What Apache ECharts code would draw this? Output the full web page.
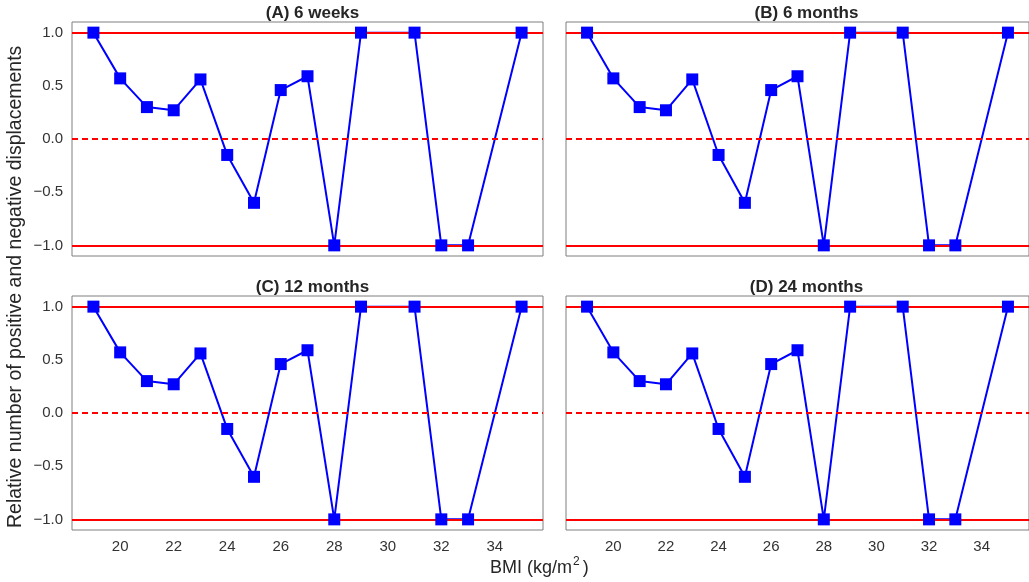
<!DOCTYPE html>
<html>
<head>
<meta charset="utf-8">
<script src="https://cdn.jsdelivr.net/npm/echarts@6/dist/echarts.min.js"></script>
<style>
  html, body { margin: 0; padding: 0; background: #fff; }
  #chart { width: 1029px; height: 582px; }
</style>
</head>
<body>
<div id="chart"></div>
<script>
// BMI categories and relative displacement values (same in every panel)
const bmi = [19, 20, 21, 22, 23, 24, 25, 26, 27, 28, 29, 31, 32, 33, 35];
const weeks6 = [1, 0.57, 0.30, 0.27, 0.56, -0.15, -0.60, 0.46, 0.59, -1, 1, 1, -1, -1, 1];
const months6 = [1, 0.57, 0.30, 0.27, 0.56, -0.15, -0.60, 0.46, 0.59, -1, 1, 1, -1, -1, 1];
const months12 = [1, 0.57, 0.30, 0.27, 0.56, -0.15, -0.60, 0.46, 0.59, -1, 1, 1, -1, -1, 1];
const months24 = [1, 0.57, 0.30, 0.27, 0.56, -0.15, -0.60, 0.46, 0.59, -1, 1, 1, -1, -1, 1];
const panelTitles = ['(A) 6 weeks', '(B) 6 months', '(C) 12 months', '(D) 24 months'];
const xTicks = [20, 22, 24, 26, 28, 30, 32, 34];
const yTicks = [-1, -0.5, 0, 0.5, 1];

const panels = [weeks6, months6, months12, months24];
const font = "'Liberation Sans', Arial, sans-serif";

const grids = [
  { left: 72, top: 22, width: 471, height: 234 },
  { left: 566, top: 22, width: 471, height: 234 },
  { left: 72, top: 296, width: 471, height: 234 },
  { left: 566, top: 296, width: 471, height: 234 }
];

const fmtY = v => (v < 0 ? '\u2212' + Math.abs(v).toFixed(1) : v.toFixed(1));

let chart = echarts.init(document.getElementById('chart'));

let option = {
  animation: false,
  backgroundColor: '#fff',
  title: panelTitles.map((t, i) => ({
    text: t,
    left: grids[i].left + grids[i].width / 2,
    top: grids[i].top - 22,
    textAlign: 'center',
    textStyle: { fontFamily: font, fontSize: 17, fontWeight: 'bold', color: '#262626' }
  })),
  grid: grids.map(g => Object.assign({
    show: true, borderColor: '#7f7f7f', borderWidth: 1, backgroundColor: '#fff'
  }, g)),
  xAxis: grids.map((g, i) => ({
    type: 'value',
    gridIndex: i,
    min: 18.2,
    max: 35.8,
    axisLine: { show: false },
    axisTick: { show: false },
    splitLine: { show: false },
    axisLabel: {
      show: i >= 2,
      customValues: xTicks,
      margin: 9,
      fontFamily: font,
      fontSize: 15,
      color: '#333'
    }
  })),
  yAxis: grids.map((g, i) => ({
    type: 'value',
    gridIndex: i,
    min: -1.1,
    max: 1.1,
    axisLine: { show: false },
    axisTick: { show: false },
    splitLine: { show: false },
    axisLabel: {
      show: i % 2 === 0,
      customValues: yTicks,
      formatter: fmtY,
      margin: 9,
      fontFamily: font,
      fontSize: 15,
      color: '#333'
    }
  })),
  graphic: [
    {
      type: 'text',
      x: 6,
      y: 528,
      rotation: Math.PI / 2,
      style: {
        text: 'Relative number of positive and negative displacements',
        font: '19.5px ' + font,
        fill: '#262626'
      }
    },
    {
      type: 'text',
      left: 490,
      top: 556,
      style: {
        text: 'BMI (kg/m{sup|2})',
        font: '18px ' + font,
        fill: '#262626',
        rich: {
          sup: { fontSize: 12, fontFamily: font, fill: '#262626', verticalAlign: 'top', padding: [0, 3, 12, 1] }
        }
      }
    }
  ],
  series: []
};

panels.forEach((vals, i) => {
  const pts = bmi.map((x, k) => [x, vals[k]]);
  option.series.push({
    type: 'line',
    xAxisIndex: i,
    yAxisIndex: i,
    data: pts,
    showSymbol: false,
    symbol: 'none',
    z: 2,
    lineStyle: { color: '#0000ff', width: 2 },
    markLine: {
      silent: true,
      symbol: 'none',
      label: { show: false },
      lineStyle: { color: '#ff0000', width: 1.8, type: 'solid' },
      data: [
        { yAxis: 1 },
        { yAxis: 0, lineStyle: { type: [6, 4], color: '#ff0000', width: 1.8 } },
        { yAxis: -1 }
      ]
    }
  });
  option.series.push({
    type: 'scatter',
    xAxisIndex: i,
    yAxisIndex: i,
    data: pts,
    symbol: 'rect',
    symbolSize: 12,
    z: 6,
    itemStyle: { color: '#0000ff', opacity: 1 }
  });
});

chart.setOption(option);
</script>
</body>
</html>
